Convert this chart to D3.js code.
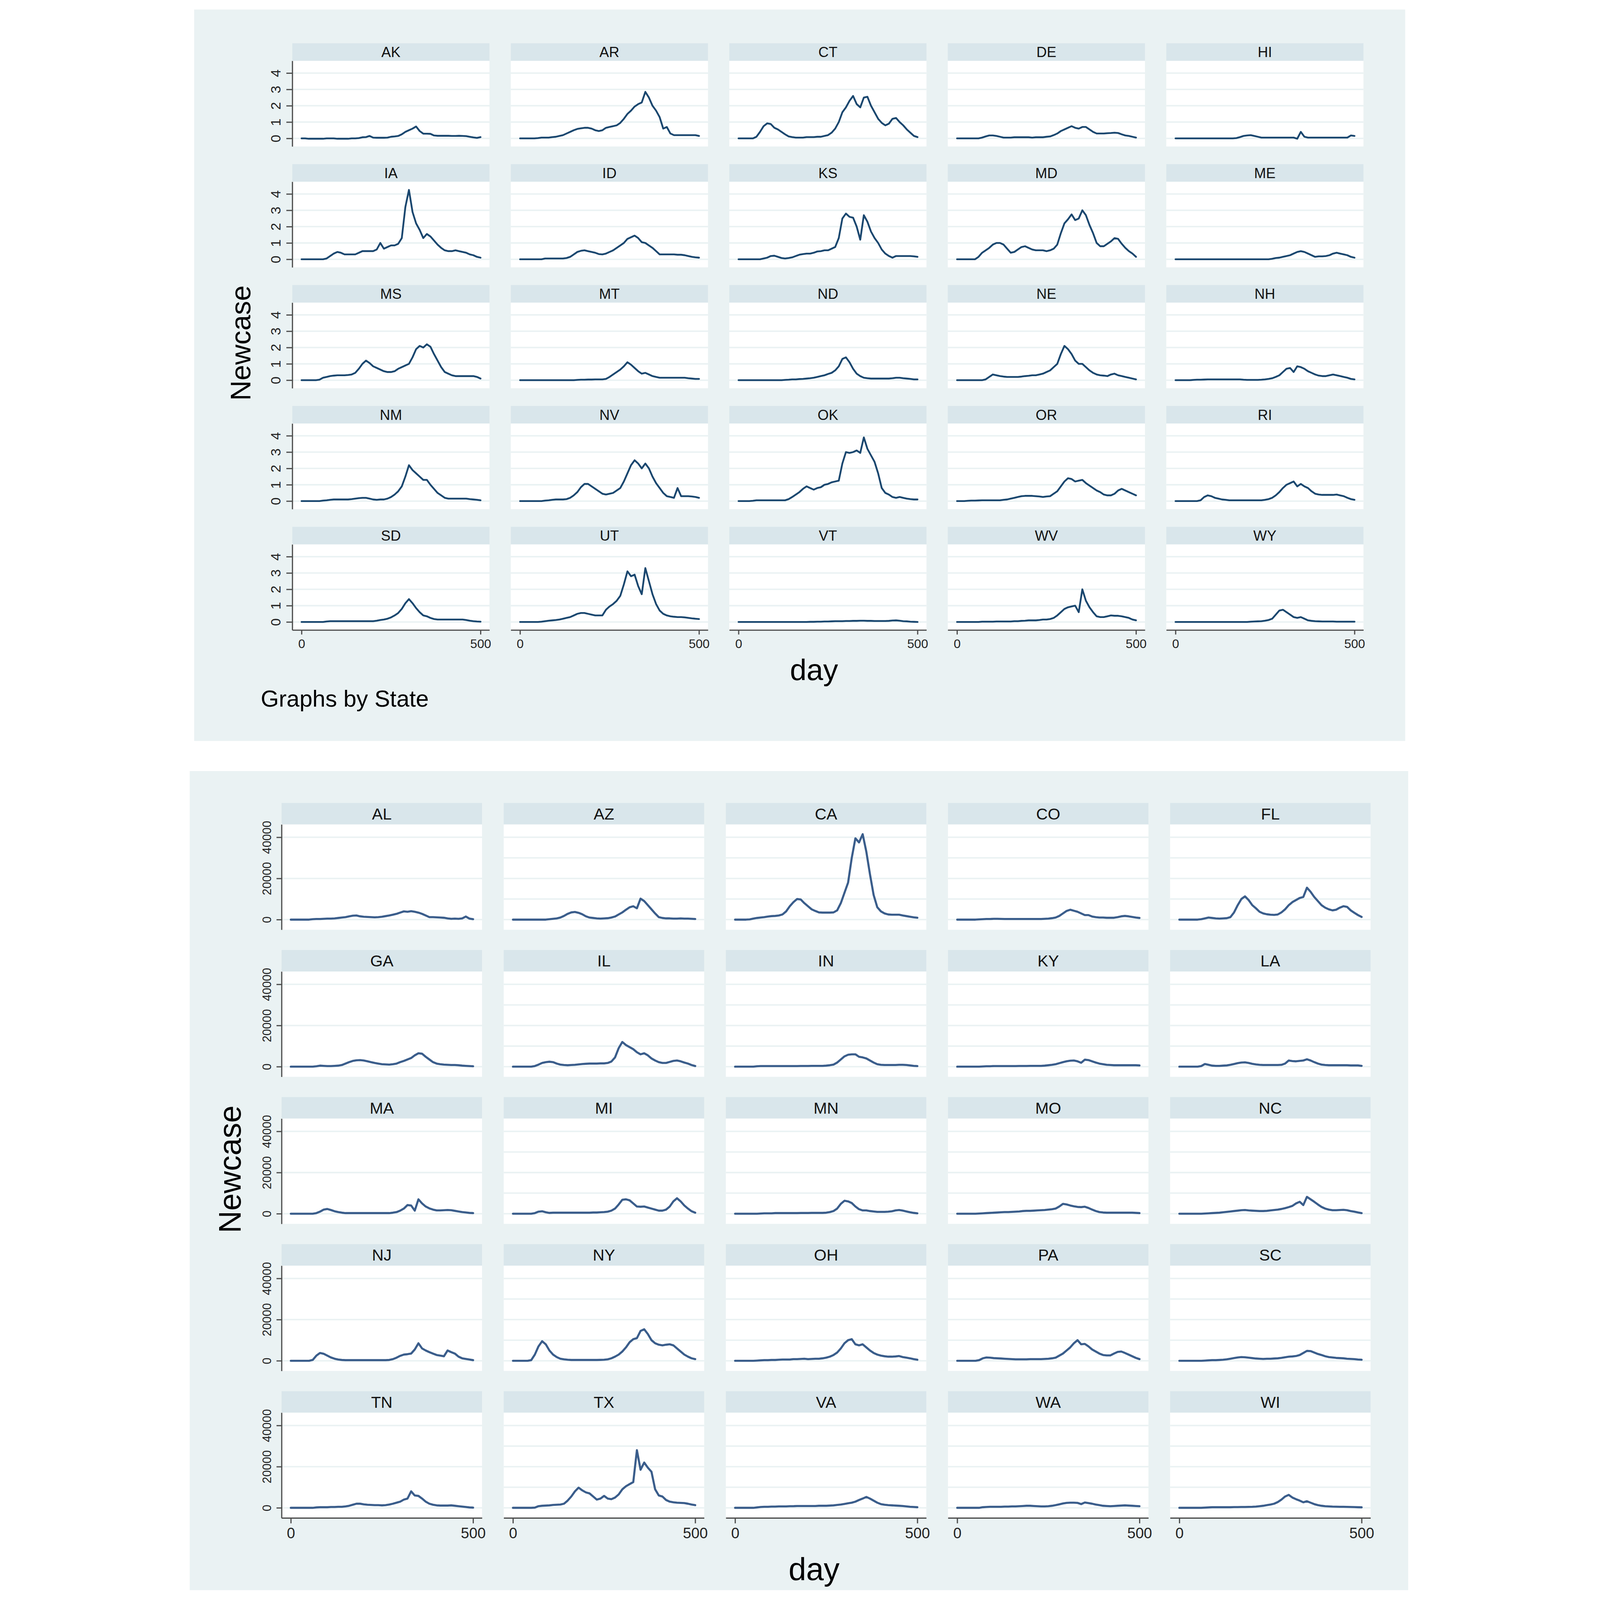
<!DOCTYPE html>
<html>
<head>
<meta charset="utf-8">
<script src="https://cdn.jsdelivr.net/npm/d3@7"></script>
<style>
  html, body { margin: 0; padding: 0; background: #fff; width: 100%; height: 100%; overflow: hidden; }
  #chart { display: block; width: 100vw; height: 100vh; }
</style>
</head>
<body>
<svg id="chart" viewBox="0 0 4160 5364" preserveAspectRatio="xMidYMin meet"></svg>
<script>
// day grid shared by every series (values every 10 days)
const days = [0,10,20,30,40,50,60,70,80,90,100,110,120,130,140,150,160,170,180,190,
  200,210,220,230,240,250,260,270,280,290,300,310,320,330,340,350,360,370,380,390,
  400,410,420,430,440,450,460,470,480,490,500];

const topStates = ["AK","AR","CT","DE","HI","IA","ID","KS","MD","ME","MS","MT","ND","NE","NH",
  "NM","NV","OK","OR","RI","SD","UT","VT","WV","WY"];
const bottomStates = ["AL","AZ","CA","CO","FL","GA","IL","IN","KY","LA","MA","MI","MN","MO","NC",
  "NJ","NY","OH","PA","SC","TN","TX","VA","WA","WI"];

const topYTicks = [0, 1, 2, 3, 4];
const bottomYTicks = [0, 20000, 40000];
const bottomGridValues = [0, 10000, 20000, 30000, 40000];
const xTicks = [0, 500];

// ---- upper figure: Newcase (small states) ----
const AK = [0,0,-0.02,-0.02,-0.02,-0.02,-0.02,0,0,0,
  -0.02,-0.02,-0.02,-0.02,0,0,0.02,0.07,0.08,0.15,
  0.05,0.04,0.04,0.04,0.05,0.1,0.12,0.15,0.25,0.4,
  0.5,0.6,0.73,0.45,0.29,0.29,0.28,0.18,0.16,0.16,
  0.16,0.16,0.15,0.15,0.16,0.15,0.14,0.1,0.06,0.03,0.08];
const AR = [0,0,0,0,0,0.02,0.05,0.05,0.05,0.08,
  0.1,0.15,0.2,0.3,0.4,0.5,0.58,0.62,0.65,0.65,
  0.6,0.5,0.45,0.5,0.65,0.7,0.75,0.8,0.95,1.2,
  1.5,1.7,1.95,2.1,2.2,2.85,2.5,2.0,1.7,1.3,
  0.6,0.7,0.3,0.2,0.2,0.2,0.2,0.2,0.2,0.2,0.15];
const CT = [0,0,0,0,0,0.1,0.4,0.75,0.92,0.88,
  0.65,0.55,0.4,0.25,0.12,0.08,0.05,0.05,0.05,0.08,
  0.08,0.08,0.1,0.1,0.15,0.2,0.35,0.6,1.0,1.6,
  1.9,2.3,2.6,2.1,1.9,2.5,2.55,2.0,1.6,1.2,
  0.95,0.8,0.9,1.2,1.25,1.0,0.8,0.55,0.35,0.15,0.08];
const DE = [0,0,0,0,0,0,0,0.05,0.12,0.18,
  0.18,0.15,0.1,0.05,0.05,0.05,0.07,0.07,0.07,0.07,
  0.07,0.05,0.07,0.07,0.07,0.1,0.12,0.2,0.3,0.45,
  0.55,0.65,0.75,0.65,0.6,0.7,0.7,0.55,0.4,0.3,
  0.3,0.3,0.32,0.33,0.35,0.33,0.25,0.18,0.15,0.1,0.05];
const HI = [0,0,0,0,0,0,0,0,0,0,
  0,0,0,0,0,0,0,0.02,0.08,0.15,
  0.18,0.2,0.15,0.1,0.05,0.05,0.05,0.05,0.05,0.05,
  0.05,0.05,0.05,0.05,-0.02,0.4,0.1,0.05,0.05,0.05,
  0.05,0.05,0.05,0.05,0.05,0.05,0.05,0.05,0.05,0.18,0.15];
const IA = [0,0,0,0,0,0,0,0.05,0.2,0.35,
  0.45,0.4,0.3,0.3,0.3,0.3,0.4,0.5,0.5,0.5,
  0.5,0.6,1.0,0.65,0.75,0.85,0.85,0.95,1.3,3.2,
  4.25,2.9,2.2,1.8,1.3,1.55,1.4,1.15,0.9,0.7,
  0.55,0.5,0.5,0.55,0.5,0.45,0.4,0.3,0.25,0.15,0.1];
const ID = [0,0,0,0,0,0,0,0.05,0.05,0.05,
  0.05,0.05,0.05,0.08,0.15,0.3,0.45,0.52,0.55,0.5,
  0.45,0.4,0.32,0.3,0.35,0.45,0.55,0.7,0.85,1.0,
  1.25,1.35,1.45,1.3,1.05,1.0,0.85,0.7,0.5,0.3,
  0.3,0.3,0.3,0.3,0.28,0.28,0.25,0.2,0.15,0.12,0.1];
const KS = [0,0,0,0,0,0,0,0.05,0.1,0.2,
  0.22,0.15,0.08,0.05,0.08,0.12,0.2,0.28,0.32,0.35,
  0.35,0.4,0.48,0.5,0.55,0.55,0.65,0.75,1.3,2.5,
  2.8,2.6,2.55,2.0,1.2,2.7,2.3,1.7,1.3,1.0,
  0.6,0.35,0.2,0.1,0.2,0.2,0.2,0.2,0.2,0.18,0.15];
const MD = [0,0,0,0,0,0,0.15,0.4,0.55,0.7,
  0.9,1.0,1.0,0.9,0.65,0.4,0.45,0.6,0.75,0.8,
  0.7,0.6,0.55,0.55,0.55,0.5,0.55,0.65,0.9,1.6,
  2.2,2.45,2.75,2.4,2.5,3.0,2.7,2.1,1.6,1.0,
  0.8,0.8,0.95,1.1,1.3,1.25,0.95,0.7,0.5,0.35,0.15];
const ME = [0,0,0,0,0,0,0,0,0,0,
  0,0,0,0,0,0,0,0,0,0,
  0,0,0,0,0,0,0,0.03,0.08,0.1,
  0.15,0.2,0.25,0.35,0.45,0.5,0.45,0.35,0.25,0.15,
  0.18,0.18,0.2,0.25,0.35,0.4,0.35,0.3,0.25,0.15,0.1];
const MS = [0,0,0,0,0,0.03,0.15,0.2,0.25,0.28,
  0.3,0.3,0.3,0.32,0.35,0.45,0.7,1.0,1.2,1.05,
  0.85,0.75,0.65,0.55,0.5,0.5,0.55,0.7,0.8,0.9,
  1.0,1.4,1.9,2.1,2.0,2.2,2.05,1.6,1.2,0.8,
  0.5,0.4,0.3,0.25,0.25,0.25,0.25,0.25,0.25,0.2,0.1];
const MT = [0,0,0,0,0,0,0,0,0,0,
  0,0,0,0,0,0,0.02,0.03,0.03,0.04,
  0.04,0.05,0.05,0.05,0.08,0.2,0.35,0.5,0.65,0.85,
  1.1,0.95,0.75,0.55,0.4,0.45,0.35,0.25,0.2,0.15,
  0.15,0.15,0.15,0.15,0.15,0.15,0.15,0.12,0.1,0.08,0.08];
const ND = [0,0,0,0,0,0,0,0,0,0,
  0,0,0,0.02,0.03,0.05,0.05,0.07,0.08,0.1,
  0.12,0.15,0.2,0.25,0.3,0.38,0.45,0.6,0.85,1.3,
  1.4,1.1,0.7,0.4,0.25,0.15,0.12,0.1,0.1,0.1,
  0.1,0.1,0.1,0.12,0.15,0.15,0.12,0.1,0.08,0.05,0.05];
const NE = [0,0,0,0,0,0,0,0,0.05,0.2,
  0.35,0.3,0.25,0.22,0.2,0.2,0.2,0.2,0.22,0.25,
  0.27,0.3,0.3,0.35,0.4,0.5,0.6,0.8,1.0,1.6,
  2.1,1.9,1.6,1.2,1.0,1.0,0.8,0.6,0.45,0.35,
  0.3,0.28,0.25,0.35,0.4,0.3,0.25,0.2,0.15,0.1,0.05];
const NH = [0,0,0,0,0,0.02,0.03,0.03,0.04,0.05,
  0.05,0.05,0.05,0.05,0.05,0.05,0.05,0.05,0.05,0.03,
  0.02,0.02,0.02,0.02,0.03,0.05,0.08,0.12,0.2,0.3,
  0.5,0.7,0.75,0.5,0.85,0.8,0.7,0.55,0.45,0.35,
  0.28,0.25,0.25,0.3,0.35,0.3,0.25,0.2,0.15,0.08,0.05];
const NM = [0,0,0,0,0,0,0.03,0.05,0.08,0.1,
  0.1,0.1,0.1,0.1,0.12,0.15,0.18,0.2,0.2,0.15,
  0.1,0.08,0.1,0.1,0.15,0.25,0.4,0.6,0.9,1.5,
  2.2,1.9,1.7,1.5,1.3,1.3,1.0,0.75,0.5,0.35,
  0.2,0.15,0.15,0.15,0.15,0.15,0.15,0.12,0.1,0.08,0.05];
const NV = [0,0,0,0,0,0,0,0.03,0.05,0.08,
  0.1,0.1,0.1,0.12,0.2,0.35,0.55,0.85,1.05,1.05,
  0.9,0.75,0.6,0.45,0.4,0.45,0.5,0.65,0.8,1.2,
  1.7,2.2,2.5,2.3,2.0,2.3,2.0,1.5,1.1,0.8,
  0.5,0.3,0.25,0.2,0.8,0.3,0.3,0.3,0.28,0.25,0.2];
const OK = [0,0,0,0,0.02,0.05,0.05,0.05,0.05,0.05,
  0.05,0.05,0.05,0.05,0.12,0.25,0.4,0.55,0.75,0.9,
  0.8,0.7,0.8,0.85,1.0,1.05,1.15,1.2,1.25,2.3,
  3.0,2.95,3.0,3.1,2.95,3.9,3.2,2.8,2.4,1.7,
  0.8,0.5,0.4,0.25,0.2,0.25,0.2,0.15,0.12,0.1,0.1];
const OR = [0,0,0,0.02,0.03,0.03,0.04,0.05,0.05,0.05,
  0.05,0.05,0.05,0.08,0.1,0.15,0.2,0.25,0.3,0.32,
  0.32,0.32,0.3,0.28,0.25,0.28,0.3,0.45,0.6,0.9,
  1.2,1.4,1.35,1.2,1.25,1.3,1.1,0.95,0.8,0.65,
  0.55,0.4,0.35,0.35,0.45,0.65,0.75,0.65,0.55,0.45,0.35];
const RI = [0,0,0,0,0,0,0,0.05,0.25,0.35,
  0.3,0.2,0.15,0.1,0.08,0.05,0.05,0.05,0.05,0.05,
  0.05,0.05,0.05,0.05,0.05,0.08,0.12,0.2,0.35,0.55,
  0.8,1.0,1.1,1.2,0.9,1.05,0.9,0.8,0.6,0.45,
  0.4,0.38,0.38,0.38,0.38,0.4,0.35,0.3,0.2,0.12,0.08];
const SD = [0,0,0,0,0,0,0,0.03,0.05,0.05,
  0.05,0.05,0.05,0.05,0.05,0.05,0.05,0.05,0.05,0.05,
  0.05,0.08,0.12,0.15,0.2,0.28,0.4,0.55,0.8,1.15,
  1.4,1.15,0.85,0.6,0.4,0.35,0.25,0.18,0.15,0.15,
  0.15,0.15,0.15,0.15,0.15,0.15,0.12,0.08,0.05,0.03,0.02];
const UT = [0,0,0,0,0,0,0.02,0.05,0.08,0.1,
  0.12,0.15,0.2,0.25,0.3,0.4,0.5,0.55,0.55,0.5,
  0.45,0.4,0.4,0.4,0.75,0.95,1.1,1.3,1.6,2.3,
  3.1,2.8,2.9,2.2,1.7,3.3,2.5,1.7,1.1,0.7,
  0.5,0.4,0.35,0.32,0.3,0.3,0.28,0.25,0.22,0.2,0.18];
const VT = [0,0,0,0,0,0,0,0,0,0,
  0,0,0,0,0,0,0,0,0,0,
  0.01,0.01,0.02,0.02,0.03,0.03,0.04,0.05,0.05,0.05,
  0.06,0.06,0.07,0.07,0.08,0.08,0.07,0.07,0.06,0.06,
  0.06,0.06,0.07,0.09,0.1,0.08,0.05,0.04,0.02,0.01,0];
const WV = [0,0,0,0,0,0,0,0.02,0.02,0.02,
  0.02,0.03,0.03,0.03,0.03,0.03,0.05,0.05,0.07,0.08,
  0.1,0.1,0.1,0.12,0.15,0.15,0.18,0.25,0.4,0.6,
  0.8,0.9,0.95,1.0,0.6,2.0,1.3,0.9,0.6,0.35,
  0.3,0.3,0.35,0.4,0.38,0.38,0.35,0.3,0.25,0.15,0.1];
const WY = [0,0,0,0,0,0,0,0,0,0,
  0,0,0,0,0,0,0,0,0,0,
  0,0.02,0.03,0.04,0.05,0.08,0.12,0.2,0.45,0.7,
  0.75,0.6,0.45,0.3,0.25,0.3,0.2,0.1,0.07,0.05,
  0.04,0.03,0.03,0.03,0.03,0.02,0.02,0.02,0.02,0.02,0.02];

// ---- lower figure: Newcase (large states) ----
const AL = [0,0,0,0,0,0,200,300,300,400,
  500,500,600,800,1000,1200,1600,1900,2000,1600,
  1400,1300,1200,1100,1200,1400,1700,2000,2400,2800,
  3400,4000,3800,4100,3800,3400,2800,2000,1200,1200,
  1100,1000,900,600,400,500,400,600,1500,500,200];
const AZ = [0,0,0,0,0,0,0,0,0,0,
  200,400,600,1000,1800,2800,3500,3700,3300,2600,
  1600,1000,800,600,500,600,700,1000,1500,2500,
  3500,4800,6000,6500,5500,10200,9000,7000,5000,3000,
  1200,800,600,600,500,500,600,500,500,400,300];
const CA = [0,0,0,0,100,500,800,1000,1200,1500,
  1700,1800,2000,2500,4000,6500,8500,10000,9800,8000,
  6500,5000,4200,3500,3400,3400,3400,3500,4500,8000,
  13000,18000,30000,39500,37500,41500,33000,22000,12000,6000,
  4000,3000,2500,2400,2400,2400,2000,1700,1400,1100,900];
const CO = [0,0,0,0,0,0,100,200,300,300,
  400,400,350,300,300,300,300,300,300,300,
  300,300,300,300,400,500,700,1000,1800,3000,
  4200,4800,4300,3800,3000,2200,2200,1500,1200,1000,
  1000,900,900,900,1200,1600,1800,1600,1300,1000,800];
const FL = [0,0,0,0,0,0,200,600,1000,800,
  600,500,600,700,1200,3500,7000,10000,11300,9500,
  7000,5500,3800,3000,2600,2400,2300,2500,3500,5000,
  7000,8500,9500,10500,11000,15500,13500,11000,9000,7000,
  5800,5000,4500,4800,5800,6500,6200,4500,3300,2200,1300];
const GA = [0,0,0,0,0,0,0,200,500,400,
  300,300,400,500,800,1500,2200,2800,3100,3200,
  3000,2600,2200,1800,1500,1200,1100,1000,1200,1500,
  2200,2800,3500,4200,5500,6500,6300,4800,3500,2200,
  1500,1200,1000,900,800,800,700,500,400,300,200];
const IL = [0,0,0,0,0,0,300,1000,1800,2200,
  2400,2200,1500,1000,800,700,800,900,1100,1300,
  1400,1500,1500,1500,1600,1600,1800,2500,4500,9000,
  12000,10500,9500,8500,7000,6000,6500,5500,4000,3000,
  2200,1800,1800,2300,2800,3000,2600,2000,1500,800,300];
const IN = [0,0,0,0,0,0,200,300,300,300,
  300,300,300,300,300,300,300,300,350,350,
  350,400,400,400,400,500,700,1000,2000,3500,
  5000,5800,6000,6000,4800,4500,4000,3000,2000,1200,
  900,800,800,800,800,900,900,800,600,400,300];
const KY = [0,0,0,0,0,0,0,100,200,200,
  300,300,300,300,300,300,300,350,350,350,
  400,400,400,400,500,700,900,1200,1700,2200,
  2600,2900,3000,2600,1900,3400,3200,2600,2000,1500,
  1200,900,800,700,700,700,700,700,700,700,600];
const LA = [0,0,0,0,0,0,300,1300,900,500,
  400,400,500,600,900,1300,1700,2000,2100,1800,
  1400,1100,900,800,800,800,800,800,900,1500,
  3000,2700,2600,2800,3000,3600,3000,2200,1500,1000,
  800,700,700,700,700,700,700,600,600,600,400];
const MA = [0,0,0,0,0,0,0,300,1000,2000,
  2300,1800,1200,800,500,300,300,300,300,300,
  300,300,300,300,300,300,300,300,500,800,
  1500,2500,4200,4000,1500,7000,5000,3500,2600,2000,
  1600,1600,1700,1800,1700,1400,1100,800,600,400,300];
const MI = [0,0,0,0,0,0,300,1000,1200,700,
  400,500,500,500,500,500,500,500,500,500,
  500,500,600,600,700,800,1000,1500,2500,4500,
  6800,7000,6500,5000,3500,3400,3500,3000,2500,2000,
  1500,1500,2000,3500,6000,7500,6000,4000,2500,1200,500];
const MN = [0,0,0,0,0,0,0,100,200,200,
  200,300,300,300,300,300,300,300,350,350,
  350,400,400,400,400,500,800,1300,2500,4800,
  6300,6000,5200,3500,2200,1600,1600,1300,1100,900,
  900,900,1000,1200,1600,1800,1500,1100,700,400,200];
const MO = [0,0,0,0,0,0,100,200,300,400,
  500,600,700,800,800,900,1000,1100,1300,1400,
  1400,1500,1600,1700,1800,2000,2200,2500,3500,4800,
  4500,4000,3600,3300,3200,3400,2800,2000,1300,800,
  600,500,500,500,500,500,500,500,500,400,300];
const NC = [0,0,0,0,0,0,0,100,200,300,
  400,500,700,900,1100,1300,1500,1700,1800,1600,
  1500,1400,1300,1300,1400,1600,1800,2000,2300,2700,
  3200,3800,5000,5800,4200,8200,7000,5800,4500,3300,
  2500,2000,1700,1700,1800,1900,1700,1300,1000,600,300];
const NJ = [0,0,0,0,0,0,400,2500,3800,3400,
  2500,1600,1000,600,400,300,300,300,300,300,
  300,300,300,300,300,300,300,400,800,1500,
  2400,3000,3200,3500,5500,8500,6000,5000,4200,3500,
  2800,2500,2200,5000,4200,3500,2000,1200,900,600,300];
const NY = [0,0,0,0,0,300,3000,7000,9500,8000,
  5000,3000,1800,1000,700,500,400,400,400,400,
  400,400,400,400,450,500,700,1200,2000,3000,
  4500,6500,9000,10500,11000,14500,15300,13000,10000,8500,
  7800,7500,7800,8000,7500,6000,4500,3000,2000,1200,800];
const OH = [0,0,0,0,0,0,100,200,300,300,
  400,400,500,600,600,600,800,800,900,1000,
  800,900,1000,1000,1200,1500,2000,2800,4000,6000,
  8500,10000,10500,8000,7500,8000,6500,5000,3800,3000,
  2500,2200,2000,2000,2100,2300,1800,1500,1200,800,500];
const PA = [0,0,0,0,0,0,300,1200,1600,1500,
  1300,1200,1100,1000,900,800,700,700,700,700,
  800,800,800,800,900,1000,1200,1500,2500,3500,
  5000,6500,8500,10000,8000,8200,7000,5500,4500,3500,
  2800,2600,2600,3500,4300,4500,3800,3000,2200,1400,800];
const SC = [0,0,0,0,0,0,0,100,200,300,
  300,400,500,700,1000,1300,1600,1800,1700,1500,
  1300,1100,1000,900,1000,1000,1100,1200,1400,1700,
  2000,2100,2300,2800,3800,4800,4700,4000,3300,2800,
  2200,1800,1600,1400,1300,1200,1000,900,800,600,500];
const TN = [0,0,0,0,0,0,0,200,300,300,
  300,400,400,500,500,700,1000,1500,2000,2000,
  1700,1500,1400,1300,1300,1200,1300,1600,2000,2500,
  3000,4000,4500,8000,6000,5800,4500,3000,2000,1500,
  1200,1100,1100,1100,1200,1000,800,600,400,200,100];
const TX = [0,0,0,0,0,0,100,800,1000,1100,
  1200,1400,1500,1600,2000,3500,5500,8000,9800,8500,
  7500,7000,5500,4000,4500,5800,4500,4200,5000,6500,
  9000,10500,11500,12500,28000,18500,22000,19500,17500,9000,
  6000,5500,3800,3000,2700,2500,2400,2300,2000,1600,1300];
const VA = [0,0,0,0,0,0,200,400,500,500,
  600,600,700,700,700,800,800,900,900,900,
  900,900,900,1000,1000,1000,1100,1200,1400,1600,
  1900,2200,2500,3000,3800,4500,5300,4500,3500,2500,
  1800,1500,1300,1200,1100,1000,900,700,500,400,300];
const WA = [0,0,0,0,0,0,0,300,400,500,
  500,500,500,600,600,700,700,800,900,1000,
  1000,900,800,700,700,800,1000,1300,1700,2100,
  2400,2500,2500,2400,1800,2600,2300,2000,1600,1300,
  1000,900,800,900,1000,1100,1200,1100,1000,900,800];
const WI = [0,0,0,0,0,0,0,100,200,300,
  300,300,300,300,300,350,350,400,400,450,
  500,600,800,1000,1300,1600,2000,2800,4000,5500,
  6300,5000,4200,3500,2700,3200,2500,1800,1300,1000,
  800,700,600,550,500,500,450,400,350,300,250];

const topSeries = {AK,AR,CT,DE,HI,IA,ID,KS,MD,ME,MS,MT,ND,NE,NH,NM,NV,OK,OR,RI,SD,UT,VT,WV,WY};
const bottomSeries = {AL,AZ,CA,CO,FL,GA,IL,IN,KY,LA,MA,MI,MN,MO,NC,NJ,NY,OH,PA,SC,TN,TX,VA,WA,WI};

const FONT = "'Liberation Sans', Arial, Helvetica, sans-serif";
const svg = d3.select("#chart");

svg.append("rect").attr("width", 4160).attr("height", 5364).attr("fill", "#ffffff");

function drawFacets(opt) {
  const g = svg.append("g");

  g.append("rect")
    .attr("x", opt.bg[0]).attr("y", opt.bg[1])
    .attr("width", opt.bg[2]).attr("height", opt.bg[3])
    .attr("fill", "#eaf2f3");

  const x = d3.scaleLinear().domain(opt.xDomain).range([0, opt.panelW]);
  const y = d3.scaleLinear().domain(opt.yDomain).range([opt.plotH, 0]);

  const line = d3.line()
    .x((d, i) => x(days[i]))
    .y(d => y(d));

  opt.states.forEach((st, k) => {
    const col = k % 5, row = Math.floor(k / 5);
    const px = opt.left + col * opt.pitchX;
    const py = opt.top + row * opt.pitchY;

    const panel = g.append("g").attr("transform", `translate(${px},${py})`);

    panel.append("rect")
      .attr("width", opt.panelW).attr("height", opt.headerH)
      .attr("fill", "#d9e6eb");

    panel.append("text")
      .attr("x", opt.panelW / 2)
      .attr("y", opt.headerH / 2 + opt.headerFont * 0.36)
      .attr("text-anchor", "middle")
      .attr("font-family", FONT)
      .attr("font-size", opt.headerFont)
      .attr("fill", "#111")
      .text(st);

    const plot = panel.append("g").attr("transform", `translate(0,${opt.headerH})`);

    plot.append("rect")
      .attr("width", opt.panelW).attr("height", opt.plotH)
      .attr("fill", "#ffffff");

    const gv = col === 0 ? opt.gridFirst : opt.grid;
    plot.selectAll(".grid")
      .data(gv)
      .join("line")
      .attr("class", "grid")
      .attr("x1", 0).attr("x2", opt.panelW)
      .attr("y1", d => y(d)).attr("y2", d => y(d))
      .attr("stroke", "#eaf2f3")
      .attr("stroke-width", 5);

    plot.append("path")
      .datum(opt.series[st])
      .attr("d", line)
      .attr("fill", "none")
      .attr("stroke", opt.lineColor)
      .attr("stroke-width", opt.lineWidth)
      .attr("stroke-linejoin", "round")
      .attr("stroke-linecap", "round");

    if (col === 0) {
      const ya = plot.append("g")
        .call(d3.axisLeft(y).tickValues(opt.yTicks).tickSize(opt.yTick).tickSizeOuter(0).tickFormat(d3.format("d")));
      ya.attr("font-size", opt.yFont).attr("font-family", FONT);
      ya.select(".domain").attr("stroke", "#4d4d4d").attr("stroke-width", 4);
      ya.selectAll(".tick line").attr("stroke", "#4d4d4d").attr("stroke-width", 4);
      ya.selectAll(".tick text")
        .attr("x", 0).attr("dy", null)
        .attr("fill", "#222")
        .attr("text-anchor", "middle")
        .attr("transform", `translate(${-opt.yLabelBase},0) rotate(-90)`);
    }

    if (row === 4) {
      const xa = plot.append("g")
        .attr("transform", `translate(0,${opt.plotH})`)
        .call(d3.axisBottom(x).tickValues(xTicks).tickSize(opt.xTick).tickPadding(opt.xPad).tickSizeOuter(0));
      xa.attr("font-size", opt.xFont).attr("font-family", FONT);
      xa.select(".domain").attr("stroke", "#4d4d4d").attr("stroke-width", 4);
      xa.selectAll(".tick line").attr("stroke", "#4d4d4d").attr("stroke-width", 4);
      xa.selectAll(".tick text").attr("fill", "#222");
    }
  });

  // axis titles
  g.append("text")
    .attr("transform", `translate(${opt.yTitle[0]},${opt.yTitle[1]}) rotate(-90)`)
    .attr("text-anchor", "middle")
    .attr("font-family", FONT)
    .attr("font-size", opt.yTitle[2])
    .attr("fill", "#000")
    .text("Newcase");

  g.append("text")
    .attr("x", opt.xTitle[0]).attr("y", opt.xTitle[1])
    .attr("text-anchor", "middle")
    .attr("font-family", FONT)
    .attr("font-size", opt.xTitle[2])
    .attr("fill", "#000")
    .text("day");

  if (opt.note) {
    g.append("text")
      .attr("x", opt.note[0]).attr("y", opt.note[1])
      .attr("font-family", FONT)
      .attr("font-size", opt.note[2])
      .attr("fill", "#000")
      .text("Graphs by State");
  }
}

// upper figure
drawFacets({
  states: topStates, series: topSeries,
  bg: [49, 32, 4060, 2452],
  left: 378, pitchX: 732.5, panelW: 661,
  top: 145, pitchY: 405.3, headerH: 59, plotH: 287,
  xDomain: [-25.8, 525], yDomain: [-0.493, 4.749],
  yTicks: topYTicks, grid: topYTicks, gridFirst: topYTicks,
  lineColor: "#1a476f", lineWidth: 6,
  headerFont: 48, yFont: 46, yTick: 20, yLabelBase: 40,
  xFont: 42, xTick: 15, xPad: 16,
  yTitle: [238, 1150, 94], xTitle: [2127, 2280, 100],
  note: [272, 2369, 78]
});

// lower figure
drawFacets({
  states: bottomStates, series: bottomSeries,
  bg: [34, 2585, 4085, 2746],
  left: 342, pitchX: 744.7, panelW: 672,
  top: 2692, pitchY: 493, headerH: 72, plotH: 353,
  xDomain: [-25.4, 524.5], yDomain: [-4928, 46232],
  yTicks: bottomYTicks, grid: bottomGridValues, gridFirst: bottomYTicks,
  lineColor: "#3a5d8b", lineWidth: 7,
  headerFont: 54, yFont: 40, yTick: 17, yLabelBase: 35,
  xFont: 50, xTick: 18, xPad: 15,
  yTitle: [205, 3920, 104], xTitle: [2127, 5297, 106],
  note: null
});
</script>
</body>
</html>
